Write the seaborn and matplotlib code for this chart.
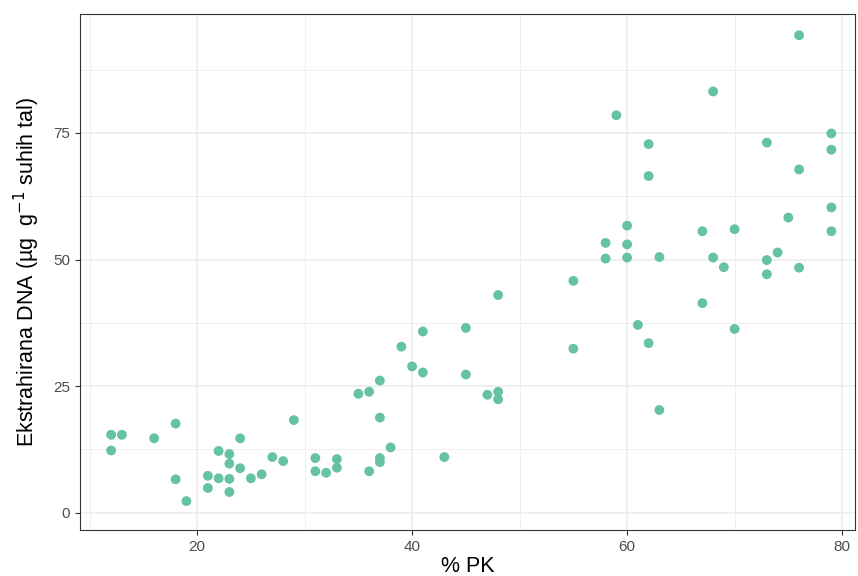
import matplotlib
matplotlib.use("Agg")
import matplotlib.pyplot as plt
from matplotlib.ticker import MultipleLocator
import pandas as pd
import seaborn as sns

# % PK vs extracted DNA
pk = [12, 13, 16, 18, 12, 18, 19, 21, 21, 22, 22, 23, 23, 23, 23, 24, 24, 25, 26, 27, 28, 29,
      31, 31, 32, 33, 33, 35, 36, 36, 37, 37, 37, 37, 38, 39, 40, 41, 41, 43, 45, 45, 47, 48, 48, 48,
      55, 55, 58, 58, 59, 60, 60, 60, 61, 62, 62, 62, 63, 63,
      67, 67, 68, 68, 69, 70, 70, 73, 73, 73, 74, 75, 76, 76, 76, 79, 79, 79, 79]
dna = [15.4, 15.4, 14.7, 17.6, 12.3, 6.6, 2.3, 7.3, 4.9, 12.2, 6.8, 11.6, 9.7, 6.7, 4.1, 14.7, 8.8, 6.8, 7.6, 11.0, 10.2, 18.3,
       10.8, 8.2, 7.9, 10.6, 8.9, 23.5, 23.9, 8.2, 26.1, 18.8, 10.8, 10.0, 12.9, 32.8, 28.9, 35.8, 27.7, 11.0, 36.5, 27.3, 23.3, 23.9, 22.4, 43.0,
       45.8, 32.4, 53.3, 50.2, 78.5, 56.7, 53.0, 50.4, 37.1, 72.8, 66.5, 33.5, 50.5, 20.3,
       55.6, 41.4, 83.2, 50.4, 48.5, 56.0, 36.3, 73.1, 49.9, 47.1, 51.4, 58.3, 94.3, 67.8, 48.4, 74.9, 71.7, 60.3, 55.6]

df = pd.DataFrame({"pk": pk, "dna": dna})

sns.set_style("white")
plt.rcParams["font.family"] = ["Liberation Sans", "DejaVu Sans"]

fig = plt.figure(figsize=(8.58, 5.76), dpi=100)
ax = fig.add_axes([0.0932, 0.0799, 0.9033, 0.8958])

sns.scatterplot(data=df, x="pk", y="dna", color="#66C2A5", s=50, edgecolor="none", ax=ax, zorder=3)

ax.set_xlim(9.1, 81.2)
ax.set_ylim(-3.4, 98.5)
ax.xaxis.set_major_locator(MultipleLocator(20))
ax.xaxis.set_minor_locator(MultipleLocator(10))
ax.yaxis.set_major_locator(MultipleLocator(25))
ax.yaxis.set_minor_locator(MultipleLocator(12.5))
ax.grid(which="major", color="#EBEBEB", linewidth=1.1, zorder=0)
ax.grid(which="minor", color="#EBEBEB", linewidth=0.55, zorder=0)
ax.set_axisbelow(True)

for sp in ax.spines.values():
    sp.set_color("#333333")
    sp.set_linewidth(0.8)

ax.tick_params(axis="both", which="major", length=3.5, width=0.8, color="#333333",
               labelcolor="#4D4D4D", labelsize=11, bottom=True, left=True)
ax.tick_params(axis="both", which="minor", length=0)

ax.set_xlabel("% PK", fontsize=15.5, color="black", labelpad=2)
ax.set_ylabel(r"Ekstrahirana DNA (µg  g$^{-1}$ suhih tal)", fontsize=15.5, color="black", labelpad=8)

fig.savefig("out.png", dpi=100)
